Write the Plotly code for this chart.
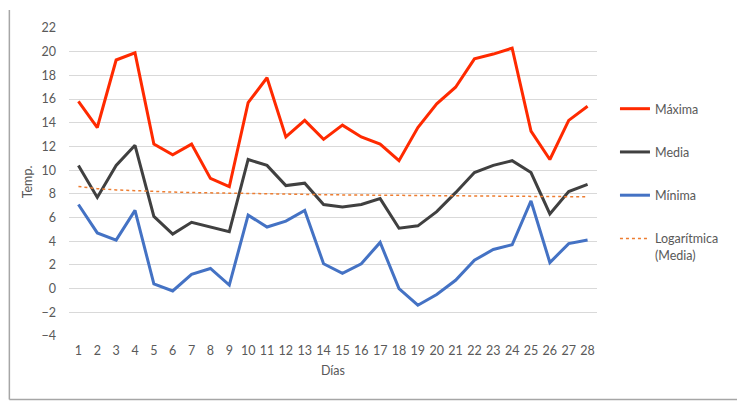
import numpy as np
import plotly.graph_objects as go

dias = list(range(1, 29))
maxima = [15.8, 13.6, 19.3, 19.9, 12.2, 11.3, 12.2, 9.3, 8.6, 15.7, 17.8, 12.8, 14.2, 12.6,
          13.8, 12.8, 12.2, 10.8, 13.6, 15.6, 17.0, 19.4, 19.8, 20.3, 13.3, 10.9, 14.2, 15.4]
media = [10.4, 7.7, 10.4, 12.1, 6.1, 4.6, 5.6, 5.2, 4.8, 10.9, 10.4, 8.7, 8.9, 7.1,
         6.9, 7.1, 7.6, 5.1, 5.3, 6.5, 8.1, 9.8, 10.4, 10.8, 9.8, 6.3, 8.2, 8.8]
minima = [7.1, 4.7, 4.1, 6.6, 0.4, -0.2, 1.2, 1.7, 0.3, 6.2, 5.2, 5.7, 6.6, 2.1,
          1.3, 2.1, 3.9, 0.0, -1.4, -0.5, 0.7, 2.4, 3.3, 3.7, 7.4, 2.2, 3.8, 4.1]
y_ticks = list(range(-4, 23, 2))

# Logarithmic trendline of "Media" (least squares on ln(x)), as in the original chart
a, b = np.polyfit(np.log(dias), media, 1)
tendencia = a * np.log(dias) + b

FONT = "Lato"
GRAY = "#595959"
FS = 12.5

W, H = 737, 393
L, R, T, B = 60.5, 147.5, 18, 65
PW, PH = W - L - R, H - T - B

fig = go.Figure()
fig.add_trace(go.Scatter(x=dias, y=maxima, mode="lines", name="Máxima",
                         line=dict(color="#FF2A00", width=3), legendgroup="a"))
fig.add_trace(go.Scatter(x=dias, y=media, mode="lines", name="Media",
                         line=dict(color="#404040", width=3), legendgroup="b"))
fig.add_trace(go.Scatter(x=dias, y=minima, mode="lines", name="Mínima",
                         line=dict(color="#4472C4", width=3), legendgroup="c"))
fig.add_trace(go.Scatter(x=dias, y=tendencia, mode="lines", name="Logarítmica<br>(Media)",
                         line=dict(color="#ED7D31", width=1.5, dash="dot"), legendgroup="d"))

fig.update_layout(
    width=W, height=H,
    margin=dict(l=L, r=R, t=T, b=B),
    paper_bgcolor="white", plot_bgcolor="white",
    font=dict(family=FONT, size=FS, color=GRAY),
    showlegend=True,
    legend=dict(x=1 + 18 / PW, xanchor="left", xref="paper", y=0.80 - 4.5 / PH, yanchor="top",
                tracegroupgap=24, valign="top",
                font=dict(family=FONT, size=FS, color=GRAY),
                itemwidth=30),
    xaxis=dict(range=[0.5, 28.5], tickmode="array", tickvals=dias,
               ticktext=[str(d) for d in dias], showgrid=False, zeroline=False,
               showline=False, ticks="", tickfont=dict(size=FS, color=GRAY),
               ticklabelstandoff=5,
               title=dict(text="Días", font=dict(size=FS, color=GRAY), standoff=9)),
    yaxis=dict(range=[-4, 22], tickmode="array", tickvals=y_ticks,
               showgrid=True, gridcolor="#D9D9D9", gridwidth=1.3, zeroline=False,
               showline=False, ticks="", tickfont=dict(size=FS, color=GRAY),
               ticklabelstandoff=12,
               title=dict(text="Temp.", font=dict(size=FS, color=GRAY), standoff=6)),
)

# chart border (left, right, bottom)
border = dict(color="#A6A6A6", width=1.5)
xl, xr = -(L - 0.75) / PW, 1 + (R - 1.5) / PW
yb, yt = -(B - 1) / PH, 1 + T / PH
fig.add_shape(type="line", xref="paper", yref="paper", x0=xl, x1=xl, y0=yb, y1=yt, line=border)
fig.add_shape(type="line", xref="paper", yref="paper", x0=xr, x1=xr, y0=yb, y1=yt, line=border)
fig.add_shape(type="line", xref="paper", yref="paper", x0=xl, x1=xr, y0=yb, y1=yb, line=border)

fig.write_html("out.html")
